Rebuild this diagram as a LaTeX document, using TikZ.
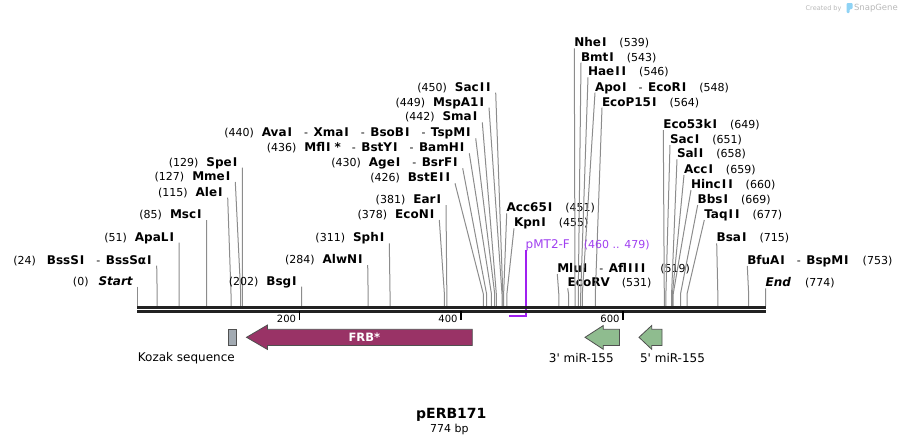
\documentclass[tikz,border=0pt]{standalone}
\usepackage{fontspec}
\setmainfont{DejaVu Sans}[Ligatures=TeXOff,BoldFont={DejaVu Sans Bold},ItalicFont={DejaVu Sans Oblique},BoldItalicFont={DejaVu Sans Bold Oblique}]
\usetikzlibrary{calc}
\definecolor{cutgray}{HTML}{8C8C8C}
\definecolor{bbone}{HTML}{222222}
\definecolor{frbcol}{HTML}{993366}
\definecolor{mircol}{HTML}{8FBC8F}
\definecolor{kozcol}{HTML}{A2AAB2}
\definecolor{edgecol}{HTML}{505050}
\definecolor{primcol}{HTML}{A020F0}
\definecolor{primtxt}{HTML}{A040F0}
\definecolor{snapgray}{HTML}{B8B8B8}
\definecolor{snapblue}{HTML}{8FD3F5}
\newcommand\nm[1]{{\fontsize{12}{14}\selectfont\bfseries #1}}
\newcommand\nmi[1]{{\fontsize{12}{14}\selectfont\bfseries\itshape #1}}
\newcommand\nb[1]{{\fontsize{11}{13}\selectfont #1}}
\newcommand\Ic{\hspace{1pt}I\hspace{1pt}}
\newcommand\sepd{\hspace{11pt}\nb{-}\hspace{5.5pt}}
\newcommand\lgap{\hspace{8pt}}
\newcommand\rgap{\hspace{12pt}}
\newcommand\site[1]{\coordinate (s#1) at ({137.7+0.81137*#1},306);}
\newcommand\leftcut[5]{%
  \node[anchor=base east] (#1) at ({#2-5},{#3-1.5}) {#5};
  \draw[cutline] ([xshift=5pt,yshift=-1.5pt]#1.base east) -- ([yshift=12pt]s#4) -- (s#4);}
\newcommand\rightcut[5]{%
  \node[anchor=base west] (#1) at (#2,{#3-1.5}) {#5};
  \draw[cutline] ([yshift=-1.5pt]#1.base west) -- ([yshift=12pt]s#4) -- (s#4);}
\begin{document}
\begin{tikzpicture}[x=1pt,y=-1pt,
  every node/.style={inner sep=0pt,outer sep=0pt},
  cutline/.style={draw=cutgray,line width=1pt},
  feat/.style={draw=edgecol,line width=0.8pt},
  ticklab/.style={anchor=base east,font=\fontsize{10}{12}\selectfont},
  tickmark/.style={draw=black,line width=1.8pt},
  featlab/.style={font=\fontsize{12}{14}\selectfont}]
\useasboundingbox (0,0) rectangle (903,445);

% site coordinates
\foreach \b in {0,24,51,85,115,127,129,202,284,311,378,381,426,430,436,440,442,449,450,451,455,519,531,539,543,546,548,564,649,651,658,659,660,669,677,715,753,774} {\site{\b}}

% left labels
\leftcut{L0}{137.7}{286.7}{0}{\nb{(0)}\hspace{10pt}\nmi{Start}}
\leftcut{L24}{156.7}{265.7}{24}{\nb{(24)}\hspace{11pt}\nm{BssS\Ic}\sepd\nm{BssSα\Ic}}
\leftcut{L51}{179}{242.7}{51}{\nb{(51)}\lgap\nm{ApaL\Ic}}
\leftcut{L85}{206.7}{220}{85}{\nb{(85)}\lgap\nm{Msc\Ic}}
\leftcut{L115}{227.7}{197.7}{115}{\nb{(115)}\lgap\nm{Ale\Ic}}
\leftcut{L127}{235.3}{182}{127}{\nb{(127)}\lgap\nm{Mme\Ic}}
\leftcut{L129}{242.3}{167.7}{129}{\nb{(129)}\lgap\nm{Spe\Ic}}
\leftcut{L202}{301.7}{286.7}{202}{\nb{(202)}\lgap\nm{Bsg\Ic}}
\leftcut{L284}{367.7}{265}{284}{\nb{(284)}\lgap\nm{AlwN\Ic}}
\leftcut{L311}{389.3}{243.3}{311}{\nb{(311)}\lgap\nm{Sph\Ic}}
\leftcut{L378}{439.3}{220}{378}{\nb{(378)}\lgap\nm{EcoN\Ic}}
\leftcut{L381}{446}{205}{381}{\nb{(381)}\lgap\nm{Ear\Ic}}
\leftcut{L426}{455}{183.3}{426}{\nb{(426)}\lgap\nm{BstE\Ic\Ic}}
\leftcut{L430}{462.7}{168.3}{430}{\nb{(430)}\lgap\nm{Age\Ic}\sepd\nm{BsrF\Ic}}
\leftcut{L436}{469.3}{153.3}{436}{\nb{(436)}\lgap\nm{Mfl\Ic\hspace{3pt}*}\sepd\nm{BstY\Ic}\sepd\nm{BamH\Ic}}
\leftcut{L440}{475.7}{138.3}{440}{\nb{(440)}\lgap\nm{Ava\Ic}\sepd\nm{Xma\Ic}\sepd\nm{BsoB\Ic}\sepd\nm{TspM\Ic}}
\leftcut{L442}{482.3}{122.3}{442}{\nb{(442)}\lgap\nm{Sma\Ic}}
\leftcut{L449}{489}{107.7}{449}{\nb{(449)}\lgap\nm{MspA1\Ic}}
\leftcut{L450}{495.7}{92.7}{450}{\nb{(450)}\lgap\nm{Sac\Ic\Ic}}

% right labels
\rightcut{R451}{506.7}{213.3}{451}{\nm{Acc65\Ic}\rgap\nb{(451)}}
\rightcut{R455}{514}{228.3}{455}{\nm{Kpn\Ic}\rgap\nb{(455)}}
\rightcut{R519}{557.3}{274}{519}{\nm{Mlu\Ic}\sepd\nm{Afl\Ic\Ic\Ic}\hspace{14pt}\nb{(519)}}
\rightcut{R531}{567.7}{288.3}{531}{\nm{EcoRV}\rgap\nb{(531)}}
\rightcut{R539}{574.3}{48.3}{539}{\nm{Nhe\Ic}\rgap\nb{(539)}}
\rightcut{R543}{581}{62.7}{543}{\nm{Bmt\Ic}\rgap\nb{(543)}}
\rightcut{R546}{588}{77.3}{546}{\nm{Hae\Ic\Ic}\rgap\nb{(546)}}
\rightcut{R548}{595}{92.7}{548}{\nm{Apo\Ic}\sepd\nm{EcoR\Ic}\rgap\nb{(548)}}
\rightcut{R564}{602}{107.7}{564}{\nm{EcoP15\Ic}\rgap\nb{(564)}}
\rightcut{R649}{663.3}{130}{649}{\nm{Eco53k\Ic}\rgap\nb{(649)}}
\rightcut{R651}{670}{145}{651}{\nm{Sac\Ic}\rgap\nb{(651)}}
\rightcut{R658}{677}{159.3}{658}{\nm{Sal\Ic}\rgap\nb{(658)}}
\rightcut{R659}{684}{175}{659}{\nm{Acc\Ic}\rgap\nb{(659)}}
\rightcut{R660}{691}{190}{660}{\nm{Hinc\Ic\Ic}\rgap\nb{(660)}}
\rightcut{R669}{697.7}{205}{669}{\nm{Bbs\Ic}\rgap\nb{(669)}}
\rightcut{R677}{704.3}{220}{677}{\nm{Taq\Ic\Ic}\rgap\nb{(677)}}
\rightcut{R715}{716.7}{243.3}{715}{\nm{Bsa\Ic}\rgap\nb{(715)}}
\rightcut{R753}{747.3}{266}{753}{\nm{BfuA\Ic}\sepd\nm{BspM\Ic}\hspace{13pt}\nb{(753)}}
\rightcut{R774}{765.7}{288.3}{774}{\nmi{End}\hspace{14pt}\nb{(774)}}

% primer
\coordinate (p460) at (509,315.7);
\coordinate (p479) at (525.7,315.7);
\node[anchor=base west,text=primtxt] (pmt) at (525.7,248.4) {{\fontsize{12}{14}\selectfont pMT2-F}\hspace{14pt}\nb{(460 .. 479)}};
\draw[draw=primcol,line width=1.6pt] ([yshift=-1.5pt]pmt.base west) -- (p479) -- (p460);

% backbone
\coordinate (bbL) at (137.3,0);
\coordinate (bbR) at (765.7,0);
\draw[bbone,line width=3pt] (bbL |- 0,307.5) -- (bbR |- 0,307.5);
\draw[bbone,line width=2.4pt] (bbL |- 0,311.6) -- (bbR |- 0,311.6);

% ticks
\draw[tickmark] (299.5,311) -- (299.5,319.5);
\draw[tickmark] (461,311) -- (461,319.5);
\draw[tickmark] (623,311) -- (623,319.5);
\node[ticklab] (t200) at (296,322.7) {200};
\node[ticklab] (t400) at (457.5,322.7) {400};
\node[ticklab] (t600) at (619.5,322.7) {600};

% features
\draw[feat,fill=kozcol] (228.3,329.3) rectangle (236.4,345.5);
\draw[feat,fill=frbcol] (472.3,329.3) -- (267.5,329.3) -- (267.5,325) -- (246.5,337.3) -- (267.5,349.5) -- (267.5,345.5) -- (472.3,345.5) -- cycle;
\node[text=white,font=\fontsize{11.5}{13}\selectfont\bfseries] (frb) at (364.3,337.3) {FRB*};
\draw[feat,fill=mircol] (619.5,329.3) -- (603.3,329.3) -- (603.3,325.5) -- (585,337.3) -- (603.3,349.3) -- (603.3,345.5) -- (619.5,345.5) -- cycle;
\draw[feat,fill=mircol] (662,329.3) -- (651.7,329.3) -- (651.7,325.5) -- (639,337.3) -- (651.7,349.3) -- (651.7,345.5) -- (662,345.5) -- cycle;
\node[featlab] (koz) at (186.3,358.5) {Kozak sequence};
\node[featlab] (m3) at (581.3,358.5) {3' miR-155};
\node[featlab] (m5) at (672.5,358.5) {5' miR-155};

% title
\node[font=\fontsize{14}{16}\selectfont\bfseries] (title) at (451.3,415) {pERB171};
\node[font=\fontsize{11}{13}\selectfont] (len) at (449.3,429.5) {774 bp};

% created by
\node[anchor=base west,text=snapgray,font=\fontsize{6.5}{8}\selectfont] (cby) at (805.7,10) {Created by};
\fill[snapblue,rounded corners=1pt] (846.5,3) -- (852.5,3) -- (852.5,9) -- (849.5,9) -- (849.5,13) -- (846.5,13) -- cycle;
\node[anchor=base west,text=snapgray,font=\fontsize{8.5}{10}\selectfont] (sg) at (854,10.5) {SnapGene};
\end{tikzpicture}
\end{document}
